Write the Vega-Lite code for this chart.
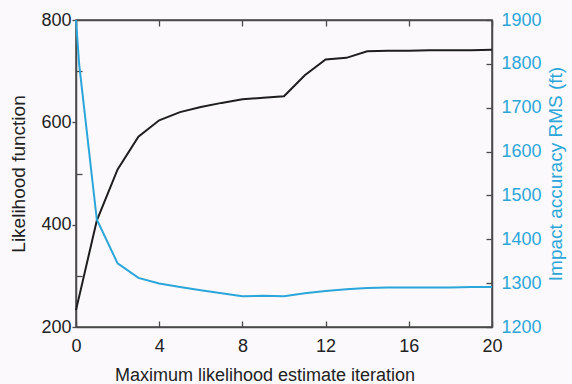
{
  "$schema": "https://vega.github.io/schema/vega-lite/v6.json",
  "width": 416,
  "height": 307,
  "autosize": "none",
  "padding": {"left": 76, "top": 20, "right": 80, "bottom": 57},
  "background": "#fbf9fb",
  "config": {
    "view": {"stroke": "#4a4a4a", "strokeWidth": 1.5},
    "font": "Liberation Sans",
    "axis": {
      "domainColor": "#4a4a4a", "domainWidth": 1.5,
      "tickColor": "#4a4a4a", "tickWidth": 1.3,
      "grid": false, "labelFlush": false,
      "labelFont": "Liberation Sans", "labelFontSize": 18, "labelColor": "#222222",
      "titleFont": "Liberation Sans", "titleFontWeight": "normal", "titleFontSize": 18, "titleColor": "#222222"
    }
  },
  "datasets": {
    "lik": [
      {"iteration": 0, "likelihood": 233}, {"iteration": 1, "likelihood": 408},
      {"iteration": 2, "likelihood": 508}, {"iteration": 3, "likelihood": 572},
      {"iteration": 4, "likelihood": 604}, {"iteration": 5, "likelihood": 620},
      {"iteration": 6, "likelihood": 630}, {"iteration": 7, "likelihood": 638},
      {"iteration": 8, "likelihood": 645}, {"iteration": 9, "likelihood": 648},
      {"iteration": 10, "likelihood": 651}, {"iteration": 11, "likelihood": 692},
      {"iteration": 12, "likelihood": 723}, {"iteration": 13, "likelihood": 726},
      {"iteration": 14, "likelihood": 739}, {"iteration": 15, "likelihood": 740},
      {"iteration": 16, "likelihood": 740}, {"iteration": 17, "likelihood": 741},
      {"iteration": 18, "likelihood": 741}, {"iteration": 19, "likelihood": 741},
      {"iteration": 20, "likelihood": 742}
    ],
    "rms": [
      {"iteration": 0, "rms": 1900}, {"iteration": 0.15, "rms": 1800},
      {"iteration": 1, "rms": 1445}, {"iteration": 2, "rms": 1345},
      {"iteration": 3, "rms": 1312}, {"iteration": 4, "rms": 1299},
      {"iteration": 5, "rms": 1291}, {"iteration": 6, "rms": 1284},
      {"iteration": 7, "rms": 1277}, {"iteration": 8, "rms": 1270},
      {"iteration": 9, "rms": 1271}, {"iteration": 10, "rms": 1270},
      {"iteration": 11, "rms": 1277}, {"iteration": 12, "rms": 1282},
      {"iteration": 13, "rms": 1286}, {"iteration": 14, "rms": 1289},
      {"iteration": 15, "rms": 1290}, {"iteration": 16, "rms": 1290},
      {"iteration": 17, "rms": 1290}, {"iteration": 18, "rms": 1290},
      {"iteration": 19, "rms": 1291}, {"iteration": 20, "rms": 1291}
    ]
  },
  "layer": [
    {
      "data": {"name": "lik"},
      "mark": {"type": "line", "color": "#1e1e1e", "strokeWidth": 2},
      "encoding": {
        "x": {
          "field": "iteration", "type": "quantitative",
          "scale": {"domain": [0, 20], "nice": false},
          "axis": {
            "orient": "bottom", "values": [0, 4, 8, 12, 16, 20],
            "tickSize": -6, "labelPadding": 16,
            "title": "Maximum likelihood estimate iteration",
            "titleX": 188.5, "titleY": 53.5, "titleAlign": "center", "titleBaseline": "alphabetic"
          }
        },
        "y": {
          "field": "likelihood", "type": "quantitative",
          "scale": {"domain": [200, 800], "nice": false},
          "axis": {
            "orient": "left", "values": [200, 300, 400, 500, 600, 700, 800],
            "labelExpr": "datum.value % 200 === 0 ? datum.label : ''",
            "tickSize": {"condition": {"test": "datum.value % 200 === 0", "value": 4}, "value": -6},
            "labelPadding": 1,
            "title": "Likelihood function",
            "titleX": -58, "titleY": 153.5, "titleAngle": 270, "titleAlign": "center", "titleBaseline": "middle",
            "titleFontSize": 19
          }
        }
      }
    },
    {
      "data": {"name": "rms"},
      "mark": {"type": "line", "color": "#2ba6da", "strokeWidth": 2},
      "encoding": {
        "x": {
          "field": "iteration", "type": "quantitative",
          "scale": {"domain": [0, 20], "nice": false},
          "axis": {
            "orient": "top", "values": [0, 4, 8, 12, 16, 20],
            "tickSize": -6, "labels": false, "title": null
          }
        },
        "y": {
          "field": "rms", "type": "quantitative",
          "scale": {"domain": [1200, 1900], "nice": false},
          "axis": {
            "orient": "right", "values": [1200, 1300, 1400, 1500, 1600, 1700, 1800, 1900],
            "format": "d", "tickSize": -6, "labelPadding": 15,
            "labelColor": "#2ba6da",
            "title": "Impact accuracy RMS (ft)", "titleColor": "#2ba6da",
            "titleX": 63, "titleY": 153.5, "titleAngle": 270, "titleAlign": "center", "titleBaseline": "middle",
            "titleFontSize": 19
          }
        }
      }
    }
  ],
  "resolve": {"scale": {"x": "independent", "y": "independent"}}
}
